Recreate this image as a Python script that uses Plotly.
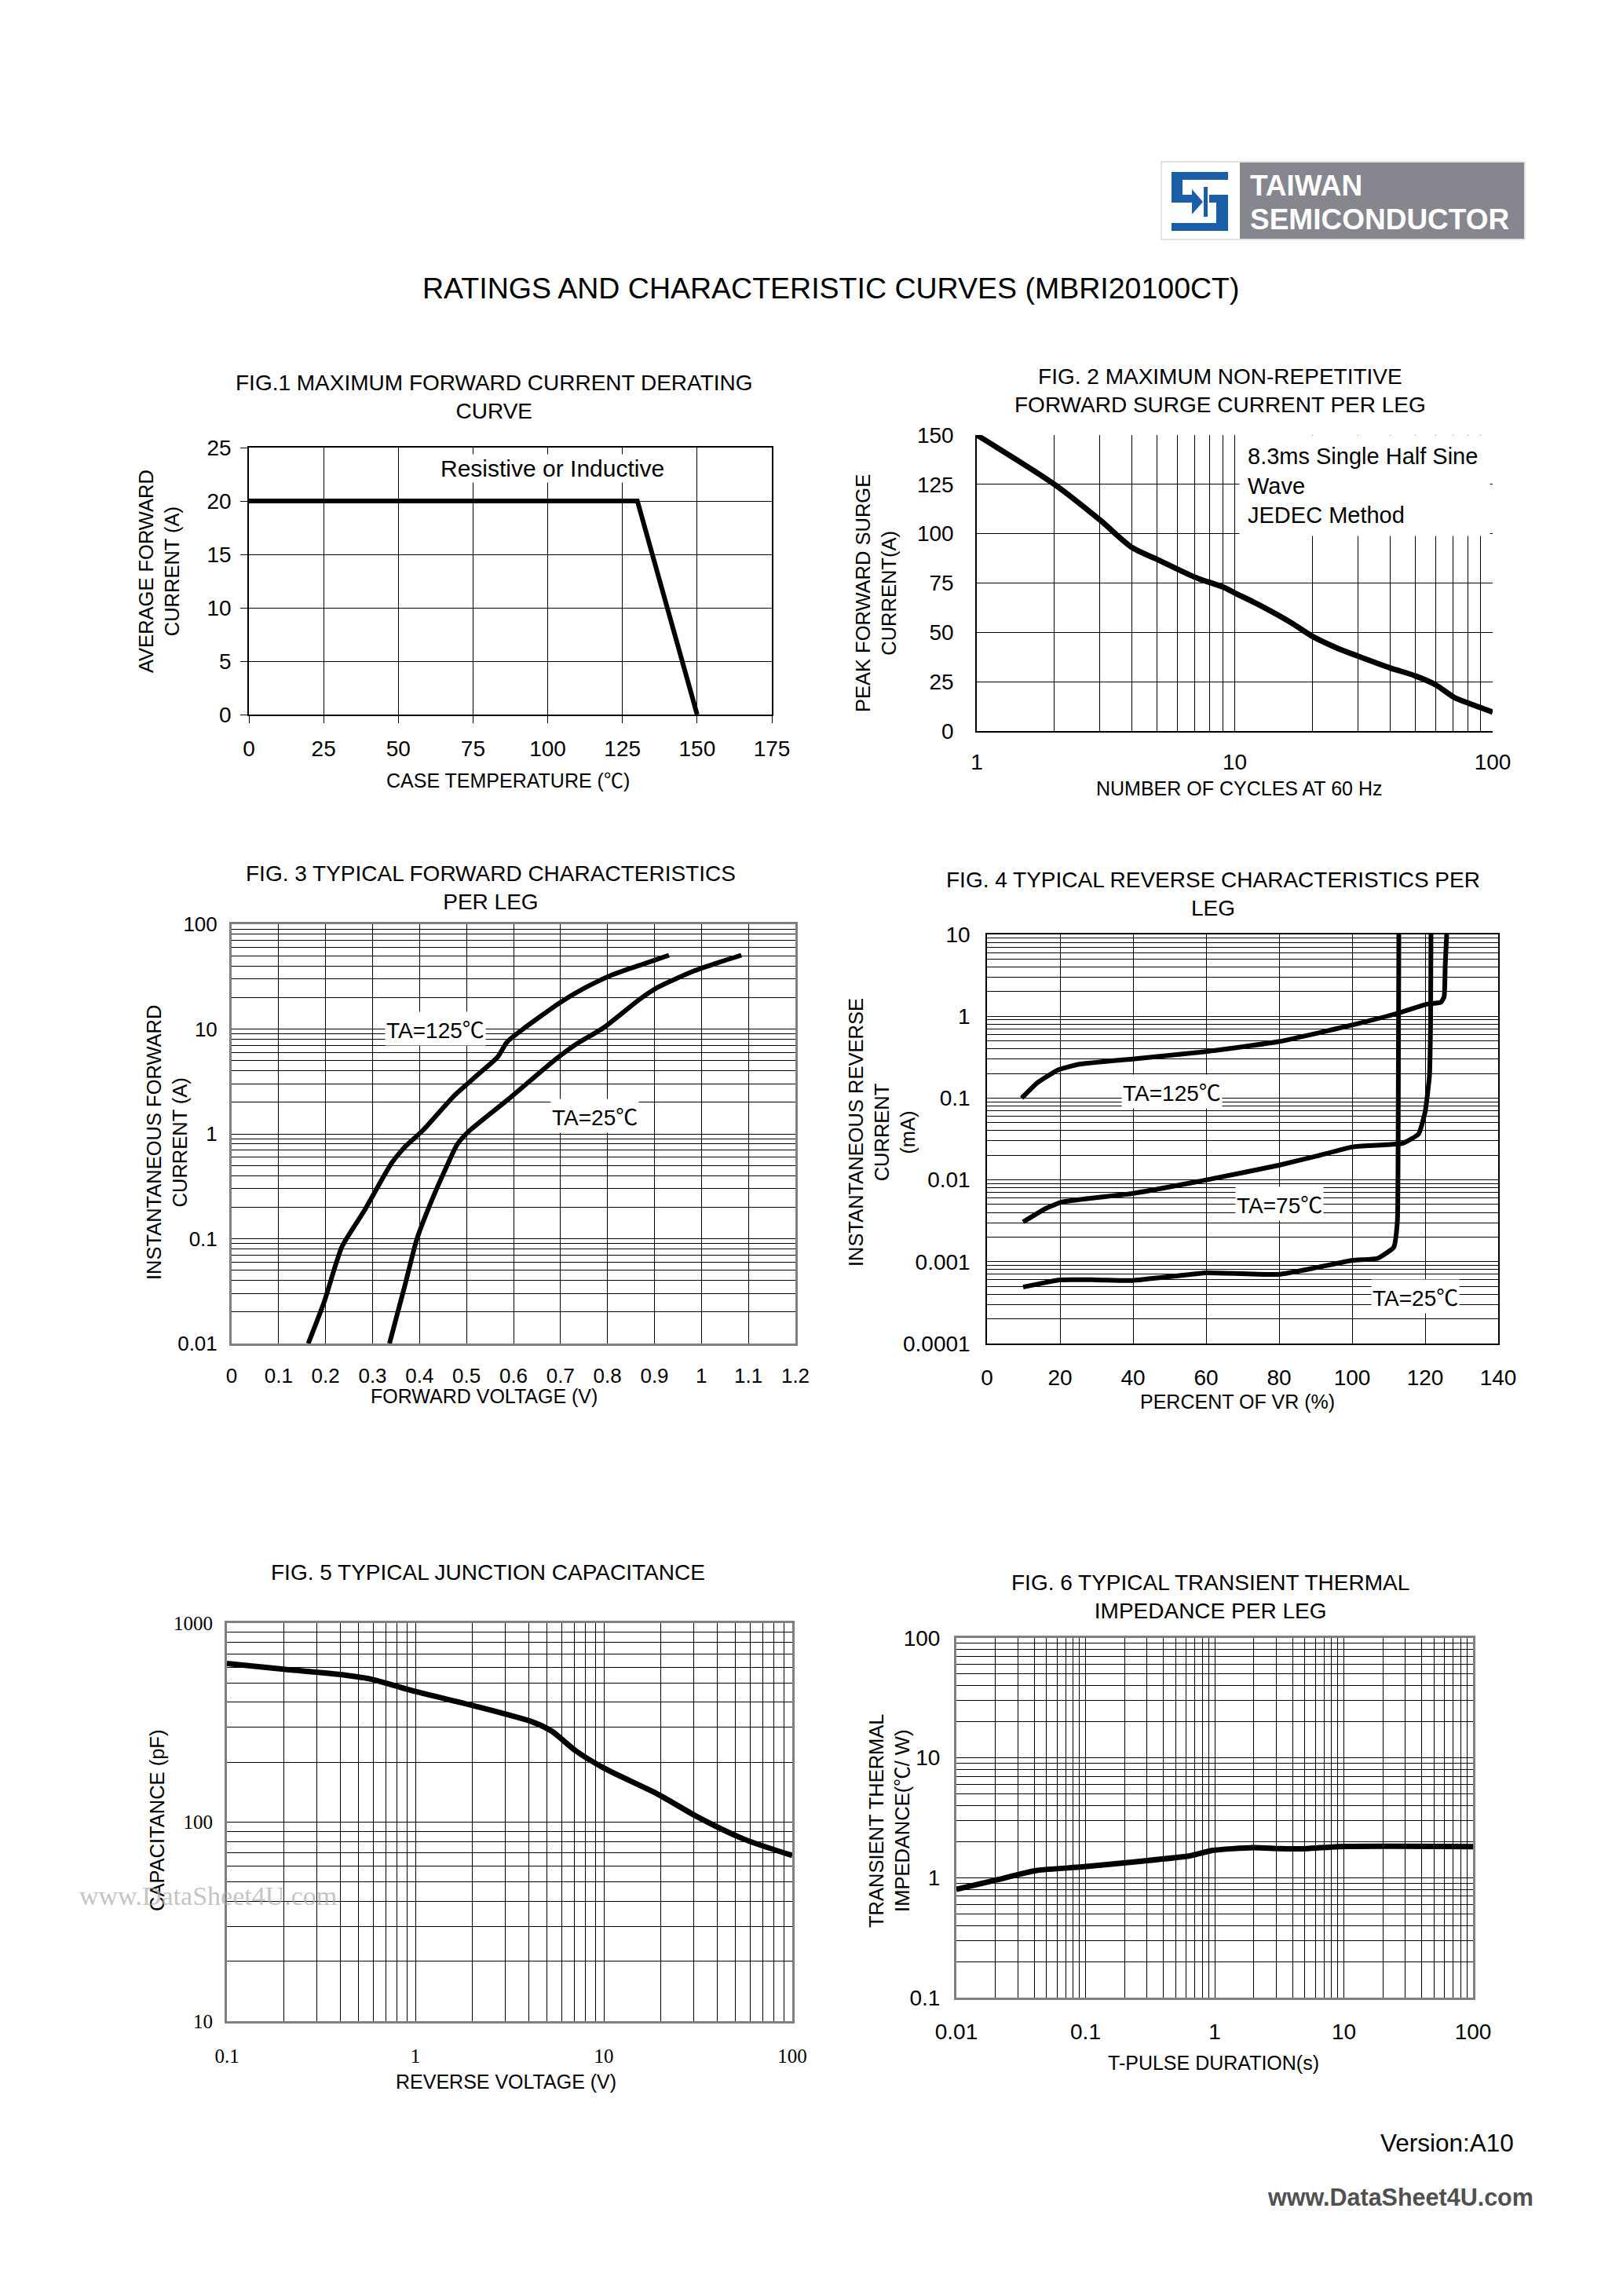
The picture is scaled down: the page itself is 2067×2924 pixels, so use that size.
import math
import plotly.graph_objects as go

W, H = 2067, 2924
OFF = 8  # page body margin of the html page
SANS = "Liberation Sans, Arial, sans-serif"
SERIF = "Liberation Serif, Times New Roman, serif"
DEG = '<span style="font-family:\'Noto Sans CJK SC\'">℃</span>'

# ---------------- data ----------------
fig1_temp = [0, 130, 150]
fig1_current = [20, 20, 0]

fig2_cycles = [1, 2, 3, 4, 5, 7, 9, 10, 12.4, 16.5, 20, 25, 30, 40, 50, 60, 71, 81, 100]
fig2_current = [150, 125, 107, 93, 87, 78, 73, 70, 64, 55, 48, 42, 38, 32, 28, 23.5, 17, 14, 9.6]

fig3_v125 = [0.163, 0.197, 0.235, 0.283, 0.341, 0.37, 0.408, 0.475, 0.523, 0.566, 0.586, 0.619, 0.70, 0.754, 0.811, 0.878, 0.931]
fig3_i125 = [0.01, 0.025, 0.084, 0.187, 0.53, 0.76, 1.09, 2.34, 3.64, 5.4, 7.5, 9.9, 18, 25, 33, 42, 50.6]
fig3_v25 = [0.336, 0.37, 0.394, 0.427, 0.456, 0.48, 0.504, 0.59, 0.691, 0.734, 0.792, 0.869, 0.907, 0.984, 1.041, 1.085]
fig3_i25 = [0.01, 0.0376, 0.098, 0.238, 0.47, 0.79, 1.05, 2.16, 5.2, 7.2, 10.3, 19.3, 25, 35.8, 43.8, 50.6]

fig4_x125 = [9.5, 13.8, 19.4, 25, 39.8, 60, 79.9, 90.4, 100.2, 112.6, 120.6, 124.3, 125.2, 125.5, 125.9]
fig4_i125 = [0.1, 0.154, 0.22, 0.258, 0.30, 0.37, 0.49, 0.62, 0.785, 1.09, 1.41, 1.48, 1.73, 4.15, 10]
fig4_x75 = [9.9, 16.3, 20.6, 39.8, 60.1, 79.9, 90.4, 100.2, 113.8, 118.2, 120, 121.2, 121.5, 121.6]
fig4_i75 = [0.00306, 0.00452, 0.00538, 0.00682, 0.01, 0.0151, 0.0196, 0.0253, 0.028, 0.0363, 0.0676, 0.19, 0.88, 10]
fig4_x25 = [9.9, 20, 29.9, 39.8, 60.1, 79.9, 90.4, 100.2, 107, 111.4, 112.4, 112.6, 112.8]
fig4_i25 = [0.00049, 0.0006, 0.0006, 0.00059, 0.00073, 0.0007, 0.00085, 0.00104, 0.0011, 0.0015, 0.0031, 0.024, 10]

fig5_voltage = [0.1, 0.2, 0.39, 0.575, 1.0, 2.04, 4.2, 5.3, 7.1, 10.1, 19.4, 31, 56, 100]
fig5_cap = [627, 586, 553, 524, 453, 384, 318, 286, 228, 186, 138, 107, 81.8, 68]

fig6_time = [0.01, 0.019, 0.042, 0.094, 0.246, 0.64, 0.96, 1.98, 3.2, 5.2, 9.1, 100]
fig6_z = [0.80, 0.94, 1.15, 1.23, 1.36, 1.52, 1.69, 1.78, 1.75, 1.75, 1.82, 1.82]

# tick labels
fig1_xticks = [0, 25, 50, 75, 100, 125, 150, 175]
fig1_yticks = [0, 5, 10, 15, 20, 25]
fig2_yticks = [0, 25, 50, 75, 100, 125, 150]
fig2_xlabels = ["1", "10", "100"]
fig3_ylabels = ["0.01", "0.1", "1", "10", "100"]
fig4_ylabels = ["0.0001", "0.001", "0.01", "0.1", "1", "10"]
fig5_xlabels = ["0.1", "1", "10", "100"]
fig5_ylabels = ["10", "100", "1000"]
fig6_xlabels = ["0.01", "0.1", "1", "10", "100"]
fig6_ylabels = ["0.1", "1", "10", "100"]


def px(x):
    return (x - OFF) / W


def py(y):
    return 1 - (y - OFF) / H


def log_grid(lo, hi, labels):
    vals, text = [], []
    k = 0
    for e in range(lo, hi):
        for m in range(1, 10):
            vals.append(m * 10.0 ** e)
            text.append(labels[k] if m == 1 else "")
        k += 1
    vals.append(10.0 ** hi)
    text.append(labels[-1])
    return vals, text


fig = go.Figure()
LW = 6

fig.add_trace(go.Scatter(x=fig1_temp, y=fig1_current, mode="lines", line=dict(color="black", width=LW), xaxis="x", yaxis="y"))
fig.add_trace(go.Scatter(x=fig2_cycles, y=fig2_current, mode="lines", line=dict(color="black", width=7, shape="spline", smoothing=0.8), xaxis="x2", yaxis="y2"))
fig.add_trace(go.Scatter(x=fig3_v125, y=fig3_i125, mode="lines", line=dict(color="black", width=LW, shape="spline", smoothing=0.6), xaxis="x3", yaxis="y3"))
fig.add_trace(go.Scatter(x=fig3_v25, y=fig3_i25, mode="lines", line=dict(color="black", width=LW, shape="spline", smoothing=0.6), xaxis="x3", yaxis="y3"))
for xs, ys in [(fig4_x125, fig4_i125), (fig4_x75, fig4_i75), (fig4_x25, fig4_i25)]:
    fig.add_trace(go.Scatter(x=xs, y=ys, mode="lines", line=dict(color="black", width=LW, shape="spline", smoothing=0.4), xaxis="x4", yaxis="y4"))
fig.add_trace(go.Scatter(x=fig5_voltage, y=fig5_cap, mode="lines", line=dict(color="black", width=7, shape="spline", smoothing=0.7), xaxis="x5", yaxis="y5"))
fig.add_trace(go.Scatter(x=fig6_time, y=fig6_z, mode="lines", line=dict(color="black", width=7, shape="spline", smoothing=0.6), xaxis="x6", yaxis="y6"))

TICKF = dict(family=SANS, size=28, color="black")
GRID = dict(showgrid=True, gridcolor="black", gridwidth=1, zeroline=False, fixedrange=True, automargin=False)


def dom(x0, x1, y0, y1):
    return [px(x0), px(x1)], [py(y1), py(y0)]


# boxes in full pixel coords (left, right, top, bottom)
B1 = (317, 983, 570, 910)
B2 = (1244, 1901, 554, 931)
B3 = (295, 1013, 1177, 1711)
B4 = (1257, 1908, 1190, 1711)
B5 = (289, 1009, 2067, 2574)
B6 = (1218, 1876, 2086, 2544)

lay = {}
# Fig 1
xd, yd = dom(*B1)
lay["xaxis"] = dict(domain=xd, anchor="y", range=[0, 175], tickvals=fig1_xticks, ticks="outside", ticklen=9,
                    tickcolor="black", showline=True, linecolor="black", linewidth=1.5, mirror=True,
                    tickfont=TICKF, ticklabelstandoff=9, **GRID)
lay["yaxis"] = dict(domain=yd, anchor="x", range=[0, 25], tickvals=fig1_yticks, ticks="outside", ticklen=9,
                    tickcolor="black", showline=True, linecolor="black", linewidth=1.5, mirror=True,
                    tickfont=TICKF, ticklabelstandoff=6, **GRID)
# Fig 2
xd, yd = dom(*B2)
v2, t2 = log_grid(0, 2, fig2_xlabels)
lay["xaxis2"] = dict(domain=xd, anchor="y2", type="log", range=[0, 2], tickvals=v2, ticktext=t2, ticks="",
                     showline=True, linecolor="black", linewidth=1.5, tickfont=TICKF, ticklabelstandoff=14, **GRID)
lay["yaxis2"] = dict(domain=yd, anchor="x2", range=[0, 150], tickvals=fig2_yticks, ticks="",
                     showline=True, linecolor="black", linewidth=1.5, tickfont=TICKF, ticklabelstandoff=22, **GRID)
# Fig 3
xd, yd = dom(*B3)
v3, t3 = log_grid(-2, 2, fig3_ylabels)
F26 = dict(family=SANS, size=26, color="black")
lay["xaxis3"] = dict(domain=xd, anchor="y3", range=[0, 1.2], dtick=0.1, tick0=0, ticks="",
                     showline=True, linecolor="#808080", linewidth=3, mirror=True, tickfont=F26,
                     ticklabelstandoff=16, **GRID)
lay["yaxis3"] = dict(domain=yd, anchor="x3", type="log", range=[-2, 2], tickvals=v3, ticktext=t3, ticks="",
                     showline=True, linecolor="#808080", linewidth=3, mirror=True, tickfont=F26,
                     ticklabelstandoff=10, **GRID)
# Fig 4
xd, yd = dom(*B4)
v4, t4 = log_grid(-4, 1, fig4_ylabels)
lay["xaxis4"] = dict(domain=xd, anchor="y4", range=[0, 140], dtick=20, tick0=0, ticks="",
                     showline=True, linecolor="black", linewidth=1.5, mirror=True, tickfont=TICKF,
                     ticklabelstandoff=18, **GRID)
lay["yaxis4"] = dict(domain=yd, anchor="x4", type="log", range=[-4, 1], tickvals=v4, ticktext=t4, ticks="",
                     showline=True, linecolor="black", linewidth=1.5, mirror=True, tickfont=TICKF,
                     ticklabelstandoff=14, **GRID)
# Fig 5
xd, yd = dom(*B5)
v5x, t5x = log_grid(-1, 2, fig5_xlabels)
v5y, t5y = log_grid(1, 3, fig5_ylabels)
SERIFT = dict(family=SERIF, size=25, color="black")
lay["xaxis5"] = dict(domain=xd, anchor="y5", type="log", range=[-1, 2], tickvals=v5x, ticktext=t5x, ticks="",
                     showline=True, linecolor="#808080", linewidth=3, mirror=True, tickfont=SERIFT,
                     ticklabelstandoff=20, **GRID)
lay["yaxis5"] = dict(domain=yd, anchor="x5", type="log", range=[1, 3], tickvals=v5y, ticktext=t5y, ticks="",
                     showline=True, linecolor="#808080", linewidth=3, mirror=True, tickfont=SERIFT,
                     ticklabelstandoff=10, **GRID)
# Fig 6
xd, yd = dom(*B6)
v6x, t6x = log_grid(-2, 2, fig6_xlabels)
v6y, t6y = log_grid(-1, 2, fig6_ylabels)
lay["xaxis6"] = dict(domain=xd, anchor="y6", type="log", range=[-2, 2], tickvals=v6x, ticktext=t6x, ticks="",
                     showline=True, linecolor="#808080", linewidth=3, mirror=True, tickfont=TICKF,
                     ticklabelstandoff=16, **GRID)
lay["yaxis6"] = dict(domain=yd, anchor="x6", type="log", range=[-1, 2], tickvals=v6y, ticktext=t6y, ticks="",
                     showline=True, linecolor="#808080", linewidth=3, mirror=True, tickfont=TICKF,
                     ticklabelstandoff=12, **GRID)

fig.update_layout(**lay)

annotations = []


def txt(x, y, s, size=25, angle=0, family=SANS, color="black", bg=None, xanchor="center", yanchor="middle", align="center", **kw):
    d = dict(x=px(x), y=py(y), xref="paper", yref="paper", text=s, showarrow=False, textangle=angle,
             font=dict(family=family, size=size, color=color), xanchor=xanchor, yanchor=yanchor, align=align)
    if bg:
        d["bgcolor"] = bg
    d.update(kw)
    annotations.append(d)


# main title
txt(1058, 367, "RATINGS AND CHARACTERISTIC CURVES (MBRI20100CT)", size=37.5)

# figure titles
TS = 28
txt(629, 505, "FIG.1 MAXIMUM FORWARD CURRENT DERATING<br>CURVE", size=TS)
txt(1554, 497, "FIG. 2 MAXIMUM NON-REPETITIVE<br>FORWARD SURGE CURRENT PER LEG", size=TS)
txt(625, 1130, "FIG. 3 TYPICAL FORWARD CHARACTERISTICS<br>PER LEG", size=TS)
txt(1545, 1138, "FIG. 4 TYPICAL REVERSE CHARACTERISTICS PER<br>LEG", size=TS)
txt(621, 2002, "FIG. 5 TYPICAL JUNCTION CAPACITANCE", size=TS)
txt(1541, 2033, "FIG. 6 TYPICAL TRANSIENT THERMAL<br>IMPEDANCE PER LEG", size=TS)

# axis titles
txt(647, 992, "CASE TEMPERATURE (" + DEG + ")", size=25)
txt(203, 728, "AVERAGE FORWARD<br>CURRENT (A)", size=25.5, angle=-90)
txt(1578, 1004, "NUMBER OF CYCLES AT 60 Hz", size=25)
txt(1115, 756, "PEAK FORWARD SURGE<br>CURRENT(A)", size=25.5, angle=-90)
txt(616, 1778, "FORWARD VOLTAGE (V)", size=25)
txt(212, 1455, "INSTANTANEOUS FORWARD<br>CURRENT (A)", size=25.5, angle=-90)
txt(1576, 1785, "PERCENT OF VR (%)", size=25)
txt(1123, 1442, "INSTANTANEOUS REVERSE<br>CURRENT<br>(mA)", size=25.5, angle=-90)
txt(644, 2651, "REVERSE VOLTAGE (V)", size=25)
txt(200, 2319, "CAPACITANCE (pF)", size=25.5, angle=-90)
txt(1545, 2627, "T-PULSE DURATION(s)", size=25)
txt(1133, 2319, "TRANSIENT THERMAL<br>IMPEDANCE(" + DEG + "/ W)", size=25.5, angle=-90)

# in-plot labels
txt(703, 597, "Resistive or Inductive", size=30, bg="white")
txt(1578, 554, "8.3ms Single Half Sine<br>Wave<br>JEDEC Method", size=29, xanchor="left", yanchor="top",
    align="left", valign="top", bg="white", width=298, height=107, borderpad=10)
txt(554, 1310, "TA=125" + DEG, size=28, bg="white")
txt(757, 1421, "TA=25" + DEG, size=28, bg="white")
txt(1492, 1390, "TA=125" + DEG, size=28, bg="white")
txt(1629, 1533, "TA=75" + DEG, size=28, bg="white")
txt(1802, 1651, "TA=25" + DEG, size=28, bg="white")

# watermark + footer
txt(265, 2414, "www.DataSheet4U.com", size=34, family=SERIF, color="rgba(170,170,170,0.7)")
txt(1843, 2729, "Version:A10", size=31.5)
txt(1783, 2798, "<b>www.DataSheet4U.com</b>", size=30.5, color="#505050")

# logo text
txt(1590, 236, "<b>TAIWAN</b>", size=37, color="white", xanchor="left")
txt(1590, 280, "<b>SEMICONDUCTOR</b>", size=37, color="white", xanchor="left")

fig.update_layout(annotations=annotations)

shapes = []


def rect(x0, y0, x1, y1, fill, line=None, lw=0, layer="above"):
    shapes.append(dict(type="rect", xref="paper", yref="paper", x0=px(x0), x1=px(x1), y0=py(y0), y1=py(y1),
                       fillcolor=fill, line=dict(color=line or fill, width=lw), layer=layer))


# logo
rect(1479, 206, 1942, 305, "white", line="#c8c8c8", lw=1)
rect(1579, 207, 1941, 304, "#86868f")
BLUE = "#1a5ea8"
rect(1492, 219, 1564, 229, BLUE)
rect(1492, 219, 1506, 258, BLUE)
rect(1492, 248, 1521, 258, BLUE)
rect(1540, 248, 1564, 258, BLUE)
rect(1549, 248, 1564, 294, BLUE)
rect(1492, 284, 1564, 294, BLUE)
rect(1533, 238, 1538, 276, BLUE)
shapes.append(dict(type="path", xref="paper", yref="paper",
                   path="M {a},{b} L {c},{d} L {e},{f} Z".format(a=px(1518), b=py(241), c=px(1532), d=py(257), e=px(1518), f=py(273)),
                   fillcolor=BLUE, line=dict(width=0)))

fig.update_layout(shapes=shapes)

fig.update_layout(width=W, height=H, margin=dict(l=0, r=0, t=0, b=0, autoexpand=False), showlegend=False,
                  paper_bgcolor="white", plot_bgcolor="white", font=dict(family=SANS, color="black"))

fig.write_html("out.html")
